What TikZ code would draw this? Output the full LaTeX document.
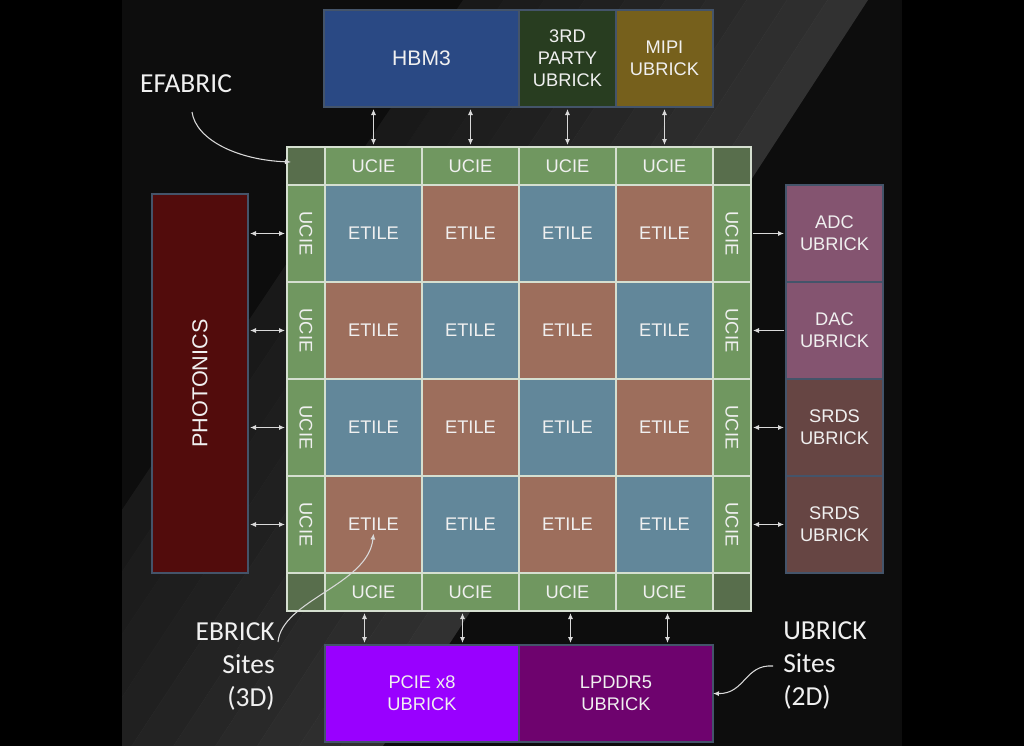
\documentclass[tikz,border=0pt]{standalone}
\usepackage{fontspec}
\usepackage{graphicx}
\setmainfont{Liberation Sans}
\newfontfamily\lblfont{Carlito}
\usetikzlibrary{arrows.meta,calc}
\definecolor{panel}{HTML}{0D0D0D}
\definecolor{hbm}{HTML}{2A4984}
\definecolor{third}{HTML}{283D20}
\definecolor{mipi}{HTML}{76601C}
\definecolor{phot}{HTML}{520C0C}
\definecolor{adc}{HTML}{845470}
\definecolor{srds}{HTML}{664543}
\definecolor{pcie}{HTML}{9900FF}
\definecolor{lpddr}{HTML}{6E036E}
\definecolor{ucie}{HTML}{709760}
\definecolor{corner}{HTML}{586E4C}
\definecolor{etblue}{HTML}{62879A}
\definecolor{etbrown}{HTML}{9D6E5C}
\definecolor{gridline}{HTML}{D5DFD0}
\definecolor{boxline}{HTML}{44546A}
\definecolor{txt}{HTML}{F0F0F0}
\definecolor{arr}{HTML}{D9D9D9}
\begin{document}
\begin{tikzpicture}[x=0.75pt,y=-0.75pt,
  box/.style={draw=boxline, line width=0.8pt, inner sep=0pt, outer sep=0pt,
    anchor=north west, text=txt, align=center,
    font=\fontsize{13.7}{16.5}\selectfont},
  cell/.style={draw=gridline, line width=1.1pt, inner sep=0pt, outer sep=0pt,
    anchor=north west, text=txt, font=\fontsize{13.7}{16.5}\selectfont},
  sq/.style={minimum width=72.75pt, minimum height=72.75pt},
  hstrip/.style={minimum width=72.75pt, minimum height=28.5pt},
  vstrip/.style={minimum width=28.5pt, minimum height=72.75pt},
  cornerbox/.style={minimum width=28.5pt, minimum height=28.5pt, fill=corner},
  dbl/.style={draw=arr, line width=0.8pt, {Latex[length=4.5pt,width=3.8pt]}-{Latex[length=4.5pt,width=3.8pt]}, shorten >=1.5pt, shorten <=1.5pt},
  sgl/.style={draw=arr, line width=0.8pt, -{Latex[length=4.5pt,width=3.8pt]}, shorten >=1.5pt, shorten <=1.5pt},
  curv/.style={draw=arr, line width=0.8pt, -{Latex[length=4.5pt,width=3.8pt]}},
  lbl/.style={text=txt, inner sep=0pt, font=\lblfont\fontsize{20.6}{24.75}\selectfont}
]
\useasboundingbox (0,0) rectangle (1024,746);
% background
\fill[black] (0,0) rectangle (1024,746);
\fill[panel] (122,0) rectangle (902,746);
\begin{scope}
\clip (122,0) rectangle (902,746);
\foreach \k in {0,...,9}{
  \pgfmathsetmacro\xa{463+405*\k/10}
  \pgfmathsetmacro\xb{463+405*(\k+1)/10}
  \pgfmathsetmacro\xc{-36+419*(\k+1)/10}
  \pgfmathsetmacro\xd{-36+419*\k/10}
  \pgfmathsetmacro\op{0.05+0.10*\k/9}
  \fill[white, fill opacity=\op] (\xa,0) -- (\xb,0) -- (\xc,746) -- (\xd,746) -- cycle;
}
\end{scope}
% top boxes
\node[box, minimum width=146.25pt, minimum height=72.75pt, fill=hbm,
  font=\fontsize{15.8}{18}\selectfont] (hbm) at (324,10) {HBM3};
\node[box, sq, fill=third] (third) at (519,10) {3RD\\PARTY\\UBRICK};
\node[box, sq, fill=mipi] (mipi) at (616,10) {MIPI\\UBRICK};
% left
\node[box, minimum width=72pt, minimum height=284.25pt, fill=phot] (phot) at (152,194)
  {\rotatebox{90}{\fontsize{16.2}{19}\selectfont PHOTONICS}};
% right
\node[box, sq, fill=adc] (adc) at (786,185) {ADC\\UBRICK};
\node[box, sq, fill=adc] (dac) at (786,282) {DAC\\UBRICK};
\node[box, sq, fill=srds] (srds1) at (786,379) {SRDS\\UBRICK};
\node[box, sq, fill=srds] (srds2) at (786,476) {SRDS\\UBRICK};
% bottom
\node[box, minimum width=145.5pt, minimum height=72.75pt, fill=pcie] (pcie) at (325,645) {PCIE x8\\UBRICK};
\node[box, minimum width=145.5pt, minimum height=72.75pt, fill=lpddr] (lpddr) at (519,645) {LPDDR5\\UBRICK};
% grid
\node[cell, cornerbox] (k00) at (287,147) {};
\node[cell, cornerbox] (k05) at (713,147) {};
\node[cell, cornerbox] (k50) at (287,573) {};
\node[cell, cornerbox] (k55) at (713,573) {};
\foreach \j in {1,...,4}{
  \node[cell, hstrip, fill=ucie] (t\j) at ({325+97*(\j-1)},147) {UCIE};
  \node[cell, hstrip, fill=ucie] (b\j) at ({325+97*(\j-1)},573) {UCIE};
  \node[cell, vstrip, fill=ucie] (l\j) at (287,{185+97*(\j-1)}) {\rotatebox{-90}{UCIE}};
  \node[cell, vstrip, fill=ucie] (r\j) at (713,{185+97*(\j-1)}) {\rotatebox{-90}{UCIE}};
}
\foreach \i in {1,...,4}{
  \foreach \j in {1,...,4}{
    \pgfmathtruncatemacro\pp{mod(\i+\j,2)}
    \ifnum\pp=0 \def\cc{etblue}\else\def\cc{etbrown}\fi
    \node[cell, sq, fill=\cc] (e\i\j) at ({325+97*(\j-1)},{185+97*(\i-1)}) {ETILE};
  }
}
% top arrows
\foreach \j/\n in {1/hbm,2/hbm,3/third,4/mipi}{
  \draw[dbl] (t\j.north |- \n.south) -- (t\j.north);
}
% bottom arrows
\foreach \j/\o/\n in {1/-9/pcie,2/-8/pcie,3/3/lpddr,4/3/lpddr}{
  \path ($(b\j.south)+(\o,0)$) coordinate (bs\j);
  \draw[dbl] (bs\j) -- (bs\j |- \n.north);
}
% left arrows
\foreach \i in {1,...,4}{
  \draw[dbl] (phot.east |- l\i.west) -- (l\i.west);
}
% right arrows
\draw[sgl] (r1.east) -- (adc.west);
\draw[sgl] (dac.west) -- (r2.east);
\draw[dbl] (r3.east) -- (srds1.west);
\draw[dbl] (r4.east) -- (srds2.west);
% labels
\node[lbl] (ef) at (186,84) {EFABRIC};
\coordinate (efs) at (192,112);
\coordinate (efe) at (291,162);
\draw[curv] (efs) .. controls (196,140) and (238,160) .. (efe);
\node[lbl, align=right, anchor=east] (eb) at (275,666) {EBRICK\\Sites\\(3D)};
\coordinate (ebs) at (278,642);
\coordinate (ebe) at ($(e41.center)+(0,9)$);
\draw[curv] (ebs) .. controls (282,600) and (368,585) .. (ebe);
\node[lbl, align=left, anchor=west] (ub) at (783,665) {UBRICK\\Sites\\(2D)};
\coordinate (ubs) at (773,666);
\draw[curv] (ubs) .. controls (745,664) and (745,694) .. (lpddr.east);
\end{tikzpicture}
\end{document}
